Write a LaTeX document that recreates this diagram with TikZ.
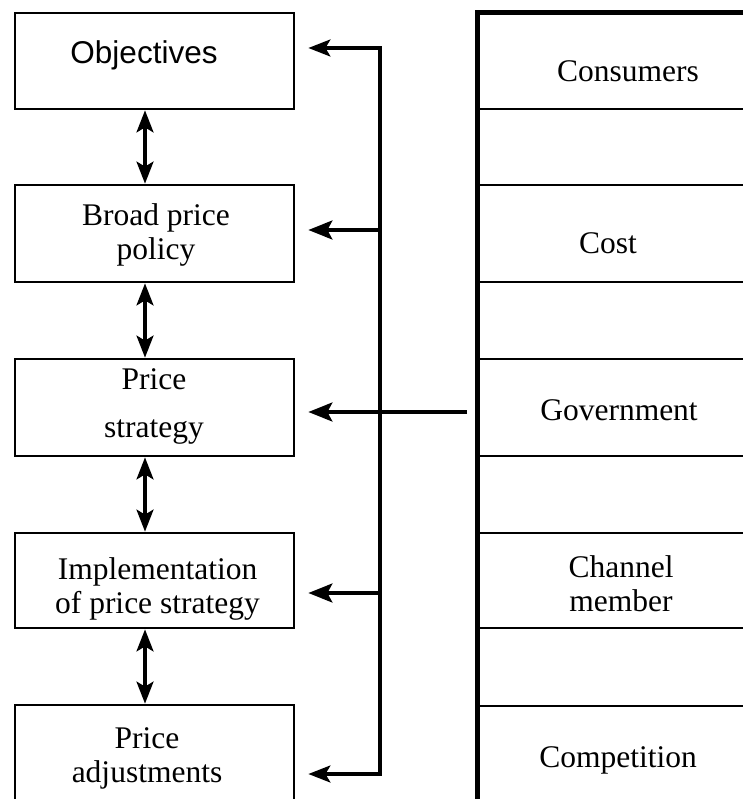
\documentclass[tikz,border=0pt]{standalone}
\usepackage{fontspec}
\setmainfont{Liberation Serif}
\newfontfamily\arialfont{Liberation Sans}
\usetikzlibrary{arrows.meta}

\begin{document}
\begin{tikzpicture}[x=1pt,y=-1pt,
    box/.style={draw,line width=2.8pt,minimum width=279pt,inner sep=0pt},
    txt/.style={font=\fontsize{31.5}{34}\selectfont,align=center,inner sep=0pt},
    fbarrow/.style={line width=3.2pt,-{Stealth[length=24pt,width=19pt,inset=5pt]}},
    dblarrow/.style={line width=3.2pt,{Stealth[length=22pt,width=17pt,inset=5pt]}-{Stealth[length=22pt,width=17pt,inset=5pt]}},
    rule/.style={line width=2.8pt},
    heavyrule/.style={line width=5pt,line join=miter}]
  \useasboundingbox (0,0) rectangle (743,799);
  \clip (0,0) rectangle (743,799);

  \node[box,minimum height=96pt] (obj) at (154.5,61) {};
  \node[box,minimum height=97pt] (policy) at (154.5,233.5) {};
  \node[box,minimum height=97pt] (strategy) at (154.5,407.5) {};
  \node[box,minimum height=95pt] (impl) at (154.5,580.5) {};
  \node[box,minimum height=110pt] (adjust) at (154.5,760) {};

  \node[txt,font=\arialfont\fontsize{31.5}{34}\selectfont,anchor=base] (objtxt) at (144,64) {Objectives};
  \node[txt] (policytxt) at (156,235) {Broad price\\policy};
  \node[txt] (strategytxt) at (154,406) {Price\\[14pt]strategy};
  \node[txt] (impltxt) at (157.5,588.5) {Implementation\\of price strategy};
  \node[txt] (adjusttxt) at (147,758.5) {Price\\adjustments};

  \draw[heavyrule] (477,820) -- (477,13) -- (743,13);
  \foreach \y in {109,185,282,359,456,533,628,706}
    \draw[rule] (477,\y) -- (743,\y);

  \node[txt,anchor=base] (consumers) at (628,82) {Consumers};
  \node[txt,anchor=base] (cost) at (608,254) {Cost};
  \node[txt,anchor=base] (govt) at (619,420) {Government};
  \node[txt] (channel) at (621,584) {Channel\\member};
  \node[txt,anchor=base] (competition) at (618,767) {Competition};

  \foreach \a/\b in {obj/policy,policy/strategy,strategy/impl,impl/adjust}
    \draw[dblarrow] ([xshift=-9.5pt]\a.south) -- ([xshift=-9.5pt]\b.north);

  \coordinate (busT) at (380,48);
  \coordinate (busB) at (380,774);
  \coordinate (tap2) at (380,230);
  \coordinate (tap4) at (380,593);
  \coordinate (govsrc) at (467,412);
  \draw[dblarrow,shorten <=13pt,shorten >=13pt] (obj.east |- busT) -- (busT) -- (busB) -- (adjust.east |- busB);
  \draw[fbarrow,shorten >=13pt] (tap2) -- (policy.east |- tap2);
  \draw[fbarrow,shorten >=13pt] (tap4) -- (impl.east |- tap4);
  \draw[fbarrow,shorten >=13pt] (govsrc) -- (strategy.east |- govsrc);
\end{tikzpicture}
\end{document}
